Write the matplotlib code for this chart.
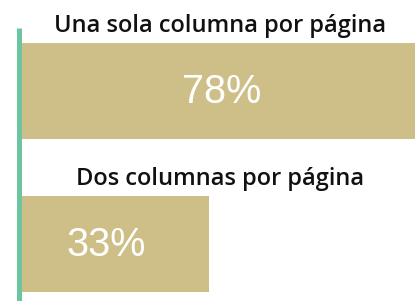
import matplotlib
matplotlib.use("Agg")
import matplotlib.pyplot as plt
from matplotlib.lines import Line2D
import matplotlib.transforms as mtransforms

categories = ["Una sola columna por página", "Dos columnas por página"]
values = [78, 33]
labels = ["78%", "33%"]

bar_color = "#CEBF88"
line_color = "#6CC4A0"

fig = plt.figure(figsize=(4.15, 3.01), dpi=100)
ax = fig.add_axes([0, 0, 1, 1])
px = 394 / 69.12  # pixels per unit
ax.set_xlim(-21 / px, 69.12)
ax.set_ylim(1.373, -0.595)

ypos = list(range(len(categories)))
ax.barh(ypos, values, height=0.627, color=bar_color, left=0)
ax.axis("off")

trans = mtransforms.blended_transform_factory(ax.transAxes, ax.transData)
for y, cat, v, lab in zip(ypos, categories, values, labels):
    ax.text(0.531, y - 0.385, cat, transform=trans, ha="center", va="baseline",
            fontsize=17, fontweight="semibold", family=["Open Sans", "DejaVu Sans"],
            color="#111111")
    ax.text(v * 0.452, y + 0.08, lab, ha="center", va="baseline", fontsize=28.5,
            family=["Liberation Sans", "DejaVu Sans"], color="white")

fig.add_artist(Line2D([18.5 / 415] * 2, [0, 1 - 28 / 301], transform=fig.transFigure,
                      lw=5 * 0.72, color=line_color, solid_capstyle="butt"))

fig.savefig("out.png", dpi=100)
